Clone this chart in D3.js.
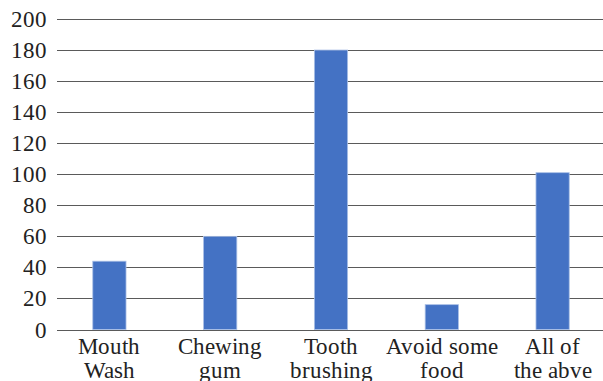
<!DOCTYPE html>
<html><head><meta charset="utf-8"><script src="https://cdn.jsdelivr.net/npm/d3@7"></script>
<style>
  @font-face { font-family: "ChartSerif"; src: local("Liberation Serif"), local("LiberationSerif"), local("Times New Roman"); }
  body { margin: 0; background: #fff; }
  svg text.lbl { font-family: "ChartSerif", "Liberation Serif", serif; font-size: 23px; fill: #222; }
</style>
</head>
<body>
<svg id="chart" width="603" height="381"></svg>
<script>
// Oral-hygiene practice counts
const categories = [["Mouth", "Wash"], ["Chewing", "gum"], ["Tooth", "brushing"], ["Avoid some", "food"], ["All of", "the abve"]];
const values = [44, 60, 180, 16, 101];
const yTicks = [0, 20, 40, 60, 80, 100, 120, 140, 160, 180, 200];

const svg = d3.select("#chart");
const W = 603;
const plot = { left: 54, right: 608, top: 19, bottom: 329.5 };
const gridLeft = 57;

const x = d3.scaleBand()
  .domain(d3.range(values.length))
  .range([plot.left, plot.right])
  .padding(0);

const y = d3.scaleLinear()
  .domain([0, 200])
  .range([plot.bottom, plot.top]);

// horizontal gridlines
svg.append("g")
  .selectAll("line")
  .data(yTicks)
  .join("line")
  .attr("x1", gridLeft)
  .attr("x2", W)
  .attr("y1", d => Math.round(y(d)) + 0.5)
  .attr("y2", d => Math.round(y(d)) + 0.5)
  .attr("stroke", "#5a5a5a")
  .attr("stroke-width", 1);

// bars
const barW = x.bandwidth() * 0.3;
svg.append("g")
  .selectAll("rect")
  .data(values)
  .join("rect")
  .attr("x", (d, i) => x(i) + (x.bandwidth() - barW) / 2)
  .attr("y", d => y(d))
  .attr("width", barW)
  .attr("height", d => y(0) - y(d))
  .attr("fill", "#4472c4")
  .attr("stroke", "#a9bfe6")
  .attr("stroke-width", 0.8);

// baseline over the bars
svg.append("line")
  .attr("x1", gridLeft).attr("x2", W)
  .attr("y1", Math.round(y(0)) + 0.5).attr("y2", Math.round(y(0)) + 0.5)
  .attr("stroke", "#5a5a5a");

// y tick labels
svg.append("g")
  .selectAll("text")
  .data(yTicks)
  .join("text")
  .attr("class", "lbl")
  .attr("x", 47)
  .attr("y", d => y(d) + 8)
  .attr("text-anchor", "end")
  .text(d => d);

// category labels, two lines each
const lines = categories.flatMap((c, i) => c.map((t, j) => ({ i, j, t })));
svg.append("g")
  .selectAll("text")
  .data(lines)
  .join("text")
  .attr("class", "lbl")
  .attr("x", d => x(d.i) + x.bandwidth() / 2)
  .attr("y", d => 353.5 + d.j * 24.5)
  .attr("text-anchor", "middle")
  .text(d => d.t);
</script></body></html>
